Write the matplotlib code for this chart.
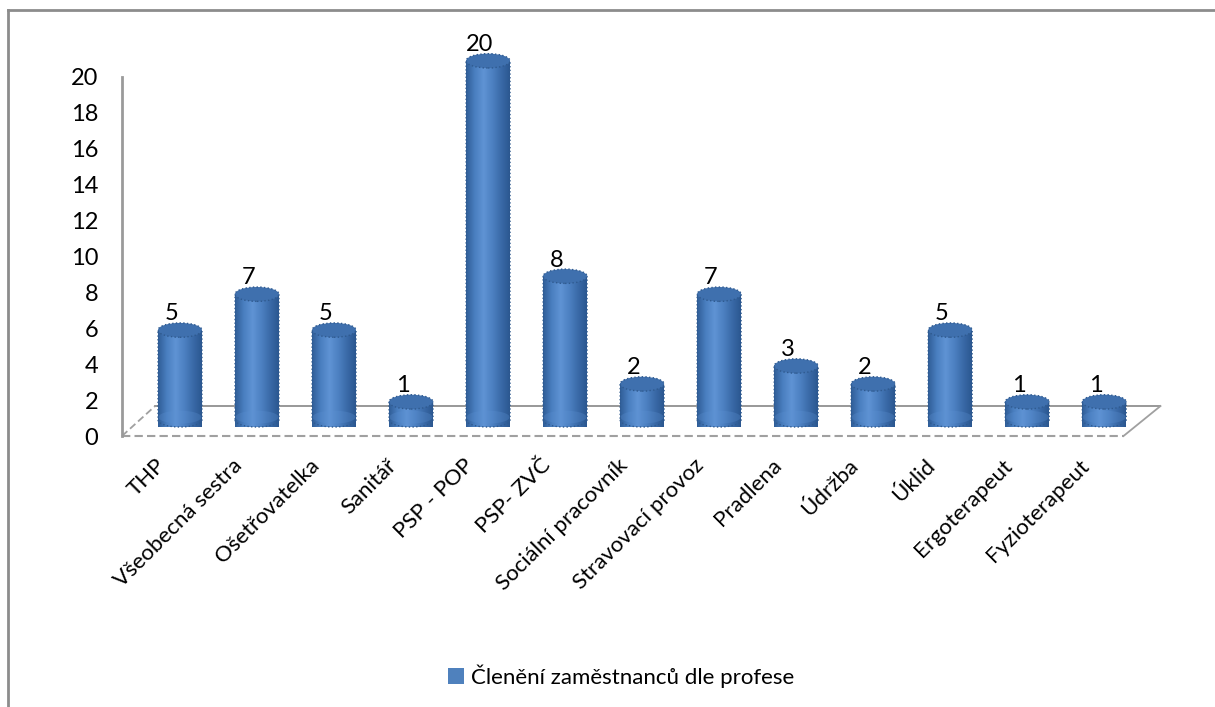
import numpy as np
import matplotlib
matplotlib.use('Agg')
import matplotlib.pyplot as plt
from matplotlib.patches import Ellipse, PathPatch, Patch
from matplotlib.path import Path
from matplotlib.lines import Line2D
from matplotlib.colors import LinearSegmentedColormap
from matplotlib.transforms import ScaledTranslation

plt.rcParams['font.family'] = ['Lato', 'DejaVu Sans']

categories = ['THP', 'Všeobecná sestra', 'Ošetřovatelka', 'Sanitář', 'PSP - POP', 'PSP- ZVČ',
              'Sociální pracovník', 'Stravovací provoz', 'Pradlena', 'Údržba', 'Úklid',
              'Ergoterapeut', 'Fyzioterapeut']
values = [5, 7, 5, 1, 20, 8, 2, 7, 3, 2, 5, 1, 1]
yticks = [0, 2, 4, 6, 8, 10, 12, 14, 16, 18, 20]
legend_label = 'Členění zaměstnanců dle profese'

floor = 0.9       # depth offset of the cylinders on the 3D floor
cap_h = 0.8       # height of the elliptic caps in data units
bar_w = 0.57

fig = plt.figure(figsize=(12.15, 7.07), dpi=100)
ax = fig.add_axes([0.1004, 0.3833, 0.856, 0.5586])

x = np.arange(len(categories))
bars = ax.bar(x, values, width=bar_w, bottom=floor, color='none', edgecolor='none')

cmap = LinearSegmentedColormap.from_list('cyl', ['#2f5d97', '#4a7fc0', '#5f93d4', '#4d81c2', '#3a6aa8', '#2b5790'])
grad = np.linspace(0, 1, 200).reshape(1, -1)

for b in bars:
    x0, y0, w, h = b.get_x(), b.get_y(), b.get_width(), b.get_height()
    xc = x0 + w / 2
    t = np.linspace(np.pi, 2 * np.pi, 40)
    verts = [(xc + w / 2 * np.cos(a), y0 + cap_h / 2 * np.sin(a)) for a in t]
    verts += [(x0 + w, y0 + h), (x0, y0 + h), verts[0]]
    codes = [Path.MOVETO] + [Path.LINETO] * (len(verts) - 2) + [Path.CLOSEPOLY]
    body = PathPatch(Path(verts, codes), facecolor='none', edgecolor='#2f5a8f',
                     lw=1.0, ls=':', zorder=3, clip_on=False)
    ax.add_patch(body)
    im = ax.imshow(grad, cmap=cmap, aspect='auto', extent=(x0, x0 + w, y0 - cap_h / 2, y0 + h),
                   zorder=2, clip_on=False)
    im.set_clip_path(body)
    # light band near the floor
    ax.add_patch(Ellipse((xc, y0 + 0.15), w * 0.98, cap_h * 0.9, facecolor='#5b90d2', alpha=0.3,
                         edgecolor='none', zorder=2.5, clip_on=False))
    ax.add_patch(Ellipse((xc, y0 + h), w, cap_h, facecolor='#3f70ae', edgecolor='#2f5a8f',
                         lw=1.0, ls=':', zorder=4, clip_on=False))

for b, v in zip(bars, values):
    ax.annotate(str(v), (b.get_x() + b.get_width() / 2, b.get_y() + b.get_height()),
                xytext=(-6, 7), textcoords='offset points', ha='center', va='baseline',
                fontsize=17, color='black', zorder=5, annotation_clip=False)

# 3D floor outline
x_left, x_right = -0.753, 12.25
depth_x, depth_y = 0.43, 1.67
ax.plot([x_left, x_right], [0, 0], color='#a0a0a0', lw=1.5, ls=(0, (4, 2)), zorder=1, clip_on=False)
ax.plot([x_left + depth_x, x_right + depth_x + 0.05], [depth_y, depth_y], color='#909090', lw=1.3,
        zorder=1, clip_on=False)
ax.plot([x_left, x_left + depth_x], [0, depth_y], color='#a0a0a0', lw=1.3, ls=(0, (4, 2)), zorder=1, clip_on=False)
ax.plot([x_right, x_right + depth_x + 0.05], [0, depth_y], color='#a0a0a0', lw=1.3, zorder=1, clip_on=False)

ax.set_xlim(-0.753, 12.75)
ax.set_ylim(0, 22)
ax.set_yticks(yticks)
ax.set_yticklabels([str(t) for t in yticks], fontsize=17)
ax.tick_params(axis='y', length=0, pad=17)
ax.set_xticks(x)
ax.set_xticklabels(categories, rotation=45, ha='right', va='center', rotation_mode='anchor', fontsize=16)
ax.tick_params(axis='x', length=0, pad=19)

for lab in ax.get_xticklabels():
    lab.set_transform(lab.get_transform() + ScaledTranslation(-18 / 100, 0, fig.dpi_scale_trans))

for s in ['top', 'right', 'bottom']:
    ax.spines[s].set_visible(False)
ax.spines['left'].set_bounds(0, 20)
ax.spines['left'].set_color('#9a9a9a')
ax.spines['left'].set_linewidth(2)
ax.spines['left'].set_linestyle((0, (2, 1)))
ax.patch.set_visible(False)

fig.legend(handles=[Patch(facecolor='#4f81bd', edgecolor='none')], labels=[legend_label],
           loc='center', bbox_to_anchor=(0.511, 0.044), frameon=False, fontsize=16,
           handlelength=0.75, handleheight=0.75, handletextpad=0.3)

fig.add_artist(Line2D([0.0066, 0.0066], [0, 0.986], color='#8c8c8c', lw=2, transform=fig.transFigure))
fig.add_artist(Line2D([0.0066, 1], [0.986, 0.986], color='#8c8c8c', lw=2, transform=fig.transFigure))

fig.savefig('out.png', dpi=100, facecolor='white')
